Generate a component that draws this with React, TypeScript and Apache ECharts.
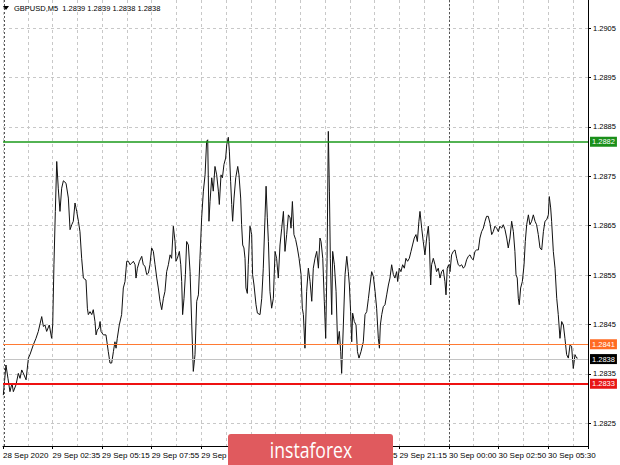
import React, { useEffect, useRef } from "react";
import * as echarts from "echarts";

// ---- data ----
const SYMBOL = "GBPUSD,M5";
const OHLC = [1.2839, 1.2839, 1.2838, 1.2838];

const X_LABELS = [
  "28 Sep 2020", "29 Sep 02:35", "29 Sep 05:15", "29 Sep 07:55", "29 Sep 10:35",
  "29 Sep 13:15", "29 Sep 15:55", "29 Sep 18:35", "29 Sep 21:15", "30 Sep 00:00",
  "30 Sep 02:50", "30 Sep 05:30",
];
const BARS_PER_LABEL = 32;
const BARS_PER_GRID = 16;
const X_MAX = 377.8;
const DAY_SEPARATORS = [1, 288];

const Y_MIN = 1.28204;
const Y_MAX = 1.29107;
const Y_TICKS = [1.2825, 1.2835, 1.2845, 1.2855, 1.2865, 1.2875, 1.2885, 1.2895, 1.2905];

const LEVEL_VALUES = [1.2882, 1.2841, 1.2838, 1.2833];

const BAR_INDEX = [
  0.2, 1.9, 3.2, 4.5, 5.8, 6.7, 8.4, 9.9, 11.0, 12.1, 13.6, 14.9, 16.4, 17.4, 19.6, 21.3, 22.8, 25.0, 26.1, 27.1,
  28.2, 29.9, 31.4, 32.1, 32.9, 33.8, 34.7, 35.7, 36.8, 37.9, 39.0, 40.7, 42.2, 43.3, 44.4, 45.4, 46.5, 47.6, 48.7, 49.7,
  50.8, 51.9, 53.6, 54.5, 55.1, 56.2, 57.3, 58.3, 59.4, 60.1, 60.9, 62.0, 62.7, 63.3, 64.8, 66.5, 68.0, 69.1, 70.2, 71.3,
  72.3, 73.0, 73.8, 75.1, 76.6, 77.7, 78.8, 79.9, 81.0, 82.0, 83.1, 84.2, 85.3, 85.9, 86.8, 88.1, 89.6, 90.6, 91.7, 92.8,
  93.9, 94.9, 96.0, 97.1, 98.2, 99.3, 100.3, 101.4, 102.5, 103.6, 104.6, 105.7, 106.8, 107.9, 108.9, 110.0, 111.1, 111.7, 112.6, 113.9,
  114.8, 115.4, 116.0, 116.9, 117.8, 118.6, 119.7, 120.8, 121.9, 122.9, 124.0,
  125.1, 126.2, 127.2, 128.3, 129.4, 130.5, 131.5, 132.2, 133.0, 133.7, 134.8, 135.8, 136.9, 138.0, 139.1, 139.7, 140.8, 141.7, 142.7, 143.8,
  144.5, 145.5, 146.2, 147.0, 147.7, 148.3, 149.2, 150.3, 151.6, 152.4, 153.5, 154.1, 154.8, 155.6, 156.3, 156.9, 157.8, 158.4, 159.5, 160.6,
  161.2, 162.1, 163.4, 164.3, 166.0, 167.1, 168.1, 169.2, 169.9, 170.7, 171.4, 172.4, 173.5, 174.6, 175.7, 176.7, 177.8, 178.9, 180.0, 181.1,
  182.1, 183.2, 184.3, 185.4, 186.0, 186.9, 187.9, 189.0, 190.1, 191.2, 192.5, 193.3, 194.0, 195.0, 196.1, 197.2, 198.3, 199.4, 200.4, 201.5,
  202.6, 203.7, 204.7, 205.4, 206.5, 207.5, 208.4, 209.3, 210.1, 210.8, 211.4, 212.3, 212.9, 214.0, 215.1, 216.1, 217.2, 218.1, 218.7, 219.8,
  220.9, 222.0, 223.0, 223.7, 224.5, 225.2, 225.8, 226.9, 228.0, 228.9, 229.9, 231.2, 232.7, 233.8, 234.9, 236.0, 237.0, 238.1, 239.2, 240.3,
  241.3, 242.4, 243.1, 243.7, 244.6, 245.6, 246.7, 247.8, 248.9, 249.9,
  251.0, 252.1, 253.1, 254.2, 254.9, 255.9, 257.0, 258.1, 259.2, 260.2, 261.3, 262.4, 263.5, 264.5, 265.6, 266.7, 267.6, 268.6, 269.3, 270.4,
  271.4, 272.5, 273.6, 274.7, 275.3, 276.2, 276.8, 277.9, 279.0, 280.0, 281.1, 282.2, 283.3, 284.3, 285.4, 286.1, 286.9, 287.8, 288.7, 289.7,
  290.8, 291.9, 293.0, 294.0, 295.1, 296.2, 297.3, 298.3, 299.4, 300.5, 301.6, 302.6, 303.7, 304.8, 305.9, 307.0, 308.0, 309.1, 310.2, 311.3,
  312.3, 313.4, 314.5, 315.6, 316.6, 317.7, 318.8, 319.9, 320.9, 322.0, 323.1, 324.2, 325.3, 326.3, 327.4, 328.5, 329.6, 330.6, 331.3, 332.1,
  332.8, 333.4, 334.3, 335.4, 336.5, 337.3, 338.2, 339.3, 340.3, 341.4, 342.5, 343.6, 344.6, 345.7, 346.8, 347.9, 349.0, 350.0, 351.1, 352.2,
  352.8, 353.7, 354.3, 355.4, 356.5, 357.6, 358.6, 359.7, 360.8, 361.9, 362.9, 364.0, 365.1, 366.2, 367.2, 368.3, 369.4, 370.5, 371.1,
];

const CLOSE = [
  1.28307, 1.28368, 1.28341, 1.28314, 1.28331, 1.28314, 1.28328, 1.28351, 1.28341, 1.28358, 1.28348, 1.28338, 1.28382, 1.28389, 1.28409, 1.28422, 1.28436, 1.28466, 1.28446, 1.28449,
  1.28436, 1.28449, 1.28422, 1.28449, 1.28571, 1.28679, 1.28780, 1.28726, 1.28679, 1.28726, 1.28741, 1.28736, 1.28706, 1.28642, 1.28652, 1.28659, 1.28696, 1.28679, 1.28659, 1.28638,
  1.28584, 1.28544, 1.28540, 1.28483, 1.28470, 1.28476, 1.28470, 1.28480, 1.28456, 1.28429, 1.28439, 1.28443, 1.28456, 1.28436, 1.28429, 1.28429, 1.28395, 1.28372, 1.28372, 1.28395,
  1.28415, 1.28402, 1.28422, 1.28449, 1.28470, 1.28524, 1.28537, 1.28578, 1.28578, 1.28571, 1.28574, 1.28578, 1.28571, 1.28544, 1.28564, 1.28578, 1.28588, 1.28571, 1.28568, 1.28551,
  1.28554, 1.28571, 1.28605, 1.28598, 1.28571, 1.28544, 1.28524, 1.28497, 1.28480, 1.28503, 1.28517, 1.28557, 1.28571, 1.28591, 1.28584, 1.28649, 1.28618, 1.28578, 1.28584, 1.28598,
  1.28571, 1.28537, 1.28470, 1.28503, 1.28551, 1.28618, 1.28611, 1.28557, 1.28449, 1.28355, 1.28389,
  1.28497, 1.28510, 1.28584, 1.28666, 1.28720, 1.28753, 1.28821, 1.28824, 1.28659, 1.28699, 1.28747, 1.28720, 1.28770, 1.28753, 1.28720, 1.28693, 1.28753, 1.28747, 1.28774, 1.28787,
  1.28814, 1.28829, 1.28801, 1.28740, 1.28693, 1.28659, 1.28706, 1.28747, 1.28770, 1.28753, 1.28706, 1.28652, 1.28611, 1.28605, 1.28584, 1.28524, 1.28513, 1.28571, 1.28649, 1.28632,
  1.28551, 1.28530, 1.28490, 1.28473, 1.28470, 1.28503, 1.28564, 1.28666, 1.28730, 1.28666, 1.28618, 1.28517, 1.28483, 1.28503, 1.28598, 1.28584, 1.28544, 1.28611, 1.28645, 1.28679,
  1.28598, 1.28632, 1.28672, 1.28666, 1.28645, 1.28699, 1.28632, 1.28622, 1.28605, 1.28584, 1.28551, 1.28483, 1.28470, 1.28402, 1.28517, 1.28564, 1.28537, 1.28497, 1.28564, 1.28584,
  1.28598, 1.28564, 1.28625, 1.28618, 1.28584, 1.28497, 1.28422, 1.28584, 1.28841, 1.28720, 1.28584, 1.28470, 1.28598, 1.28571, 1.28517, 1.28409, 1.28436, 1.28395, 1.28351, 1.28449,
  1.28551, 1.28588, 1.28557, 1.28530, 1.28476, 1.28415, 1.28473, 1.28456, 1.28449, 1.28395, 1.28382, 1.28395, 1.28415, 1.28470, 1.28476, 1.28503, 1.28530, 1.28557, 1.28547, 1.28517,
  1.28483, 1.28422, 1.28402, 1.28449, 1.28470, 1.28486, 1.28490, 1.28510, 1.28530, 1.28544,
  1.28571, 1.28551, 1.28544, 1.28557, 1.28537, 1.28564, 1.28557, 1.28571, 1.28564, 1.28584, 1.28578, 1.28584, 1.28598, 1.28611, 1.28625, 1.28632, 1.28618, 1.28659, 1.28679, 1.28645,
  1.28618, 1.28591, 1.28625, 1.28649, 1.28618, 1.28530, 1.28571, 1.28584, 1.28571, 1.28557, 1.28564, 1.28544, 1.28557, 1.28561, 1.28537, 1.28510, 1.28564, 1.28571, 1.28557, 1.28591,
  1.28598, 1.28601, 1.28584, 1.28571, 1.28568, 1.28571, 1.28564, 1.28568, 1.28581, 1.28588, 1.28591, 1.28584, 1.28581, 1.28598, 1.28601, 1.28601, 1.28625, 1.28638, 1.28645, 1.28659,
  1.28669, 1.28669, 1.28655, 1.28632, 1.28638, 1.28649, 1.28645, 1.28638, 1.28649, 1.28645, 1.28652, 1.28642, 1.28625, 1.28605, 1.28625, 1.28659, 1.28638, 1.28598, 1.28551, 1.28544,
  1.28503, 1.28490, 1.28524, 1.28537, 1.28571, 1.28618, 1.28652, 1.28672, 1.28652, 1.28659, 1.28672, 1.28659, 1.28652, 1.28632, 1.28605, 1.28601, 1.28638, 1.28659, 1.28662, 1.28672,
  1.28709, 1.28686, 1.28659, 1.28598, 1.28564, 1.28503, 1.28470, 1.28422, 1.28456, 1.28449, 1.28422, 1.28389, 1.28382, 1.28409, 1.28406, 1.28361, 1.28389, 1.28382, 1.28382,
];

// ---- styles ----
const FONT = "'Liberation Sans', Arial, sans-serif";
const LEVEL_LINE_COLORS = ["#1a9a1a", "#ff7a33", "#c4c4c4", "#ee1111"];
const LEVEL_LINE_WIDTHS = [1.6, 1.2, 1, 2];
const LEVEL_TAG_COLORS = ["#1a8f1a", "#ff6a22", "#000000", "#e81515"];
const GRID_LINE = { color: "#c8c8c8", type: [3, 3] as number[], width: 1 };

export default function App() {
  const ref = useRef<HTMLDivElement>(null);

  useEffect(() => {
    if (!ref.current) return;
    const chart = echarts.init(ref.current, undefined, { renderer: "svg" });
    const data = BAR_INDEX.map((b, i) => [b, CLOSE[i]]);

    const levelLines = LEVEL_VALUES.map((v, i) => ({
      yAxis: v,
      lineStyle: { color: LEVEL_LINE_COLORS[i], width: LEVEL_LINE_WIDTHS[i], type: "solid" },
      label: {
        show: true,
        position: "end",
        distance: 2,
        formatter: v.toFixed(4),
        color: "#ffffff",
        backgroundColor: LEVEL_TAG_COLORS[i],
        padding: [1, 2, 1, 2],
        fontSize: 7.5,
        lineHeight: 8,
        fontFamily: FONT,
      },
    }));
    const separators = DAY_SEPARATORS.map((b) => ({
      xAxis: b,
      lineStyle: { color: "#555555", type: [2, 2], width: 1 },
      label: { show: false },
    }));

    const option: any = {
      animation: false,
      backgroundColor: "#ffffff",
      textStyle: { fontFamily: FONT },
      grid: { left: 3, right: 32, top: 0, bottom: 19, containLabel: false },
      xAxis: [
        {
          type: "value",
          min: 0,
          max: X_MAX,
          interval: BARS_PER_GRID,
          axisLine: { show: true, onZero: false, lineStyle: { color: "#000", width: 1 } },
          axisTick: { show: false },
          axisLabel: { show: false },
          splitLine: { show: true, lineStyle: GRID_LINE },
        },
        {
          type: "value",
          position: "bottom",
          min: 0,
          max: X_MAX,
          interval: BARS_PER_LABEL,
          axisLine: { show: false, onZero: false },
          axisTick: { show: true, length: 3, lineStyle: { color: "#000" } },
          axisLabel: {
            show: true,
            align: "left",
            margin: 5,
            fontSize: 8,
            color: "#000",
            fontFamily: FONT,
            formatter: (v: number) =>
              v % BARS_PER_LABEL === 0 ? X_LABELS[v / BARS_PER_LABEL] ?? "" : "",
          },
          splitLine: { show: false },
        },
      ],
      yAxis: {
        type: "value",
        position: "right",
        min: Y_MIN,
        max: Y_MAX,
        scale: true,
        axisLine: { show: true, onZero: false, lineStyle: { color: "#000", width: 1 } },
        axisTick: { show: true, length: 3, customValues: Y_TICKS, lineStyle: { color: "#000" } },
        axisLabel: {
          customValues: Y_TICKS,
          formatter: (v: number) => v.toFixed(4),
          fontSize: 7.5,
          color: "#000",
          margin: 5,
          fontFamily: FONT,
        },
        splitLine: { show: true, lineStyle: GRID_LINE },
      },
      series: [
        {
          type: "line",
          xAxisIndex: 0,
          yAxisIndex: 0,
          data,
          showSymbol: false,
          symbol: "none",
          lineStyle: { color: "#111", width: 1 },
          silent: true,
          z: 3,
          markLine: {
            silent: true,
            precision: 5,
            symbol: ["none", "none"],
            animation: false,
            data: [...separators, ...levelLines],
          },
        },
      ],
      graphic: [
        {
          type: "polygon",
          z: 100,
          shape: { points: [[3, 6], [9, 6], [6, 10]] },
          style: { fill: "#000" },
        },
        {
          type: "text",
          z: 100,
          left: 14,
          top: 4,
          style: {
            text: `${SYMBOL}  ${OHLC.map((v) => v.toFixed(4)).join(" ")}`,
            fill: "#000",
            font: `7.5px ${FONT}`,
          },
        },
        {
          type: "group",
          z: 100,
          children: [
            {
              type: "rect",
              z: 100,
              shape: { x: 228, y: 434, width: 165, height: 40, r: 3 },
              style: { fill: "#e05a5e" },
            },
            {
              type: "text",
              z: 101,
              x: 311,
              y: 450,
              scaleX: 0.8,
              style: {
                text: "instaforex",
                fill: "#ffffff",
                font: `22px 'Open Sans', 'Liberation Sans', sans-serif`,
                textAlign: "center",
                textVerticalAlign: "middle",
              },
            },
          ],
        },
      ],
    };

    chart.setOption(option);
    return () => chart.dispose();
  }, []);

  return (
    <div
      ref={ref}
      style={{ position: "fixed", left: 0, top: 0, width: 620, height: 465 }}
    />
  );
}
